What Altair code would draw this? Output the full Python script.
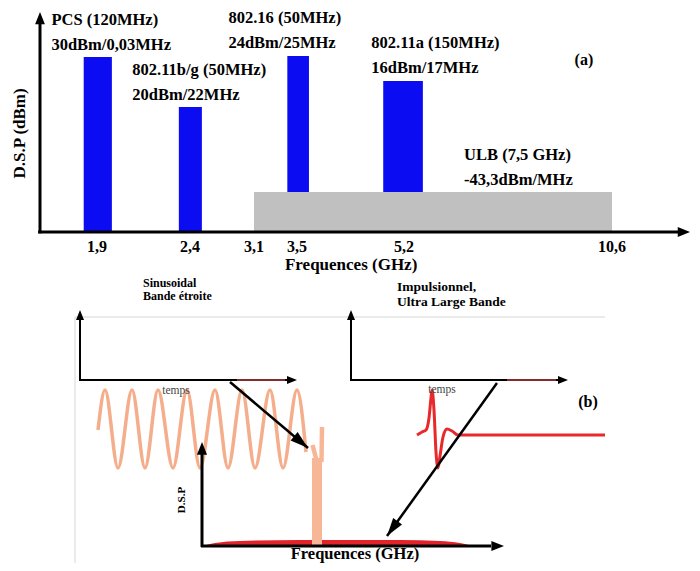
import altair as alt
import pandas as pd
import numpy as np

# ---------------- Panel (a): spectrum allocation ----------------
axis_ghz = [1.6, 1.9, 2.4, 3.1, 3.5, 5.2, 10.6, 12.6]        # schematic (non-linear) frequency axis
tick_ghz = [1.9, 2.4, 3.1, 3.5, 5.2, 10.6]
tick_txt = ["1,9", "2,4", "3,1", "3,5", "5,2", "10,6"]

band_names = ["PCS (120MHz)", "802.11b/g (50MHz)", "802.16 (50MHz)", "802.11a (150MHz)"]
band_limits = ["30dBm/0,03MHz", "20dBm/22MHz", "24dBm/25MHz", "16dBm/17MHz"]
band_start = [1.83, 2.34, 3.41, 4.87]
band_end = [1.98, 2.53, 3.69, 5.69]
band_level = [78.1, 55.8, 78.6, 67.4]        # schematic D.S.P level (0-100)
label_ghz = [1.66, 2.09, 2.82, 4.68]
label_level = [94.6, 72.3, 95.5, 84.4]

ulb_name = ["ULB (7,5 GHz)"]
ulb_limit = ["-43,3dBm/MHz"]
ulb_start = [3.1]
ulb_end = [10.6]
ulb_level = [17.9]
ulb_label_ghz = [6.76]
ulb_label_level = [34.4]

# ---------------- Panel (b): illustration (diagram units) ----------------
sine_x = [98, 105, 118, 132, 145, 158, 173, 187, 200, 215, 228, 242, 255, 270, 283, 297, 306]
sine_y = [430, 390, 468, 390, 468, 390, 468, 390, 468, 390, 468, 390, 468, 390, 468, 390, 452]

pulse_x = [417, 422, 426, 429, 431, 432, 434, 436, 438, 440, 443, 447, 452, 458, 605]
pulse_y = [435, 432, 430, 418, 398, 390, 410, 452, 468, 456, 437, 429, 431, 435, 435]

uwb_x = [203, 215, 240, 300, 400, 440, 460, 472]
uwb_top = [546, 543, 541, 540, 540, 541, 543, 546]
uwb_base = [546] * len(uwb_x)

line_x0 = [312]; line_x1 = [322]; line_y0 = [458]; line_y1 = [546]
prong_x = [312.5, 317, 322, 321.5]
prong_y = [445, 462, 427, 462]
prong_id = [0, 0, 1, 1]

# segments (x, y, x2, y2)
time_axes = [(80, 381, 80, 318), (79, 380, 287, 380), (351, 381, 351, 318), (350, 380, 558, 380)]
time_red = [(237, 380, 285, 380), (507, 380, 556, 380)]
spec_axes = [(202, 547, 202, 454), (201, 546, 491, 546)]
diag_arrows = [(230, 382, 308, 448), (497, 383, 387, 536)]
frame = [(75, 317, 605, 317), (75, 317, 75, 563)]
time_heads = [(80, 310, 0), (297, 380, 90), (351, 310, 0), (568, 380, 90)]
spec_heads = [(202, 442, 0), (504, 546, 90)]

txt_left_small = [("Sinusoidal", 143, 283), ("Bande étroite", 143, 296)]
txt_left_med = [("Impulsionnel,", 397, 287), ("Ultra Large Bande", 397, 302)]
txt_temps = [("temps", 176, 391), ("temps", 442, 390)]

W, H = 684, 555
SERIF = "Liberation Serif, Times New Roman, Times, DejaVu Serif, serif"
ARROW = "M0,0L-0.8,2L0.8,2Z"

xs = alt.Scale(domain=axis_ghz, range=[32, 89, 182, 246, 289, 396, 604, 682], nice=False, zero=False)
ys = alt.Scale(domain=[0, 100], range=[224, 0], nice=False, zero=False)

def XA(f):
    return alt.X(f, type="quantitative", scale=xs, axis=None)

def YA(f):
    return alt.Y(f, type="quantitative", scale=ys, axis=None)

bands = pd.DataFrame({"name": band_names, "limit": band_limits, "f0": band_start, "f1": band_end,
                      "lvl": band_level, "lf": label_ghz, "ll": label_level, "base": 0.0})
ulb = pd.DataFrame({"name": ulb_name, "limit": ulb_limit, "f0": ulb_start, "f1": ulb_end,
                    "lvl": ulb_level, "lf": ulb_label_ghz, "ll": ulb_label_level, "base": 0.0})
ticks = pd.DataFrame({"f": tick_ghz, "t": tick_txt, "l": 0.0})

blue = alt.Chart(bands).mark_rect(color="#0c0cf2").encode(x=XA("f0"), x2="f1", y=YA("lvl"), y2="base")
gray = alt.Chart(ulb).mark_rect(color="#c0c0c0").encode(x=XA("f0"), x2="f1", y=YA("lvl"), y2="base")

lab_style = dict(align="left", baseline="middle", font=SERIF, fontWeight="bold", fontSize=16.5, color="black")
labs = pd.concat([bands, ulb])
lab1 = alt.Chart(labs).mark_text(**lab_style).encode(x=XA("lf"), y=YA("ll"), text="name:N")
lab2 = alt.Chart(labs).mark_text(dy=25, **lab_style).encode(x=XA("lf"), y=YA("ll"), text="limit:N")

xaxis = alt.Chart(pd.DataFrame({"f0": [axis_ghz[0] - 0.01], "f1": [12.3], "l": [0.0]})).mark_rule(
    color="black", strokeWidth=3).encode(x=XA("f0"), x2="f1", y=YA("l"))
yaxis = alt.Chart(pd.DataFrame({"f": [axis_ghz[0]], "l0": [-0.6], "l1": [95.0]})).mark_rule(
    color="black", strokeWidth=3).encode(x=XA("f"), y=YA("l0"), y2="l1")
headsA = alt.Chart(pd.DataFrame({"f": [axis_ghz[0], axis_ghz[-1]], "l": [98.2, 0.0], "ang": [0, 90]})).mark_point(
    shape=ARROW, filled=True, color="black", opacity=1, size=150, strokeWidth=0).encode(
    x=XA("f"), y=YA("l"), angle=alt.Angle("ang:Q", scale=None))

tick_lab = alt.Chart(ticks).mark_text(dy=15, baseline="middle", align="center", font=SERIF,
                                      fontWeight="bold", fontSize=16, color="black").encode(
    x=XA("f"), y=YA("l"), text="t:N")
xtitle = alt.Chart(pd.DataFrame({"f": [4.36], "l": [0.0], "t": ["Frequences (GHz)"]})).mark_text(
    dy=33, baseline="middle", align="center", font=SERIF, fontWeight="bold", fontSize=17, color="black").encode(
    x=XA("f"), y=YA("l"), text="t:N")
ytitle = alt.Chart(pd.DataFrame({"f": [axis_ghz[0]], "l": [44.0], "t": ["D.S.P (dBm)"]})).mark_text(
    dy=-20, angle=270, baseline="middle", align="center", font=SERIF, fontWeight="bold", fontSize=17,
    color="black").encode(x=XA("f"), y=YA("l"), text="t:N")
tag_a = alt.Chart(pd.DataFrame({"f": [9.87], "l": [76.8], "t": ["(a)"]})).mark_text(
    baseline="middle", align="center", font=SERIF, fontWeight="bold", fontSize=16, color="black").encode(
    x=XA("f"), y=YA("l"), text="t:N")

panelA = alt.layer(blue, gray, xaxis, yaxis, headsA, lab1, lab2, tick_lab, xtitle, ytitle, tag_a)

# ---------------- panel (b) ----------------
xb = alt.Scale(domain=[8, 8 + W], range=[0, W], nice=False, zero=False)
yb = alt.Scale(domain=[8, 8 + H], range=[0, H], nice=False, zero=False)

def XB(f):
    return alt.X(f, type="quantitative", scale=xb, axis=None)

def YB(f):
    return alt.Y(f, type="quantitative", scale=yb, axis=None)

def segs(rows, color, width):
    df = pd.DataFrame(rows, columns=["x", "y", "x2", "y2"])
    return alt.Chart(df).mark_rule(color=color, strokeWidth=width).encode(
        x=XB("x"), y=YB("y"), x2="x2", y2="y2")

def heads(rows, size):
    df = pd.DataFrame(rows, columns=["x", "y", "ang"])
    return alt.Chart(df).mark_point(shape=ARROW, filled=True, color="black", opacity=1, size=size,
                                    strokeWidth=0).encode(
        x=XB("x"), y=YB("y"), angle=alt.Angle("ang:Q", scale=None))

def texts(rows, **kw):
    df = pd.DataFrame(rows, columns=["t", "x", "y"])
    return alt.Chart(df).mark_text(font=SERIF, **kw).encode(x=XB("x"), y=YB("y"), text="t:N")

diag = pd.DataFrame(diag_arrows, columns=["x0", "y0", "x1", "y1"])
diag["ang"] = np.degrees(np.arctan2(diag.x1 - diag.x0, -(diag.y1 - diag.y0)))
diag_lines = alt.Chart(diag).mark_rule(color="black", strokeWidth=2.5).encode(
    x=XB("x0"), y=YB("y0"), x2="x1", y2="y1")
diag_heads = alt.Chart(diag).mark_point(shape="M0,0L-0.6,2L0.6,2Z", filled=True, color="black", opacity=1,
                                        size=330, strokeWidth=0).encode(
    x=XB("x1"), y=YB("y1"), angle=alt.Angle("ang:Q", scale=None))

sine = alt.Chart(pd.DataFrame({"x": sine_x, "y": sine_y, "o": range(len(sine_x))})).mark_line(
    color="#f5ae8b", strokeWidth=3.5, interpolate="monotone").encode(x=XB("x"), y=YB("y"), order="o:Q")
pulse = alt.Chart(pd.DataFrame({"x": pulse_x, "y": pulse_y, "o": range(len(pulse_x))})).mark_line(
    color="#e8282b", strokeWidth=3, interpolate="monotone").encode(x=XB("x"), y=YB("y"), order="o:Q")
uwb = alt.Chart(pd.DataFrame({"x": uwb_x, "y": uwb_top, "y2": uwb_base})).mark_area(
    color="#e2232a", interpolate="monotone").encode(x=XB("x"), y=YB("y"), y2="y2")
nb_line = alt.Chart(pd.DataFrame({"x": line_x0, "x2": line_x1, "y": line_y0, "y2": line_y1})).mark_rect(
    color="#f7b797").encode(x=XB("x"), x2="x2", y=YB("y"), y2="y2")
prongs = alt.Chart(pd.DataFrame({"x": prong_x, "y": prong_y, "g": prong_id})).mark_line(
    color="#f7b797", strokeWidth=4.5).encode(x=XB("x"), y=YB("y"), detail="g:N")

panelB = alt.layer(
    segs(frame, "#e4e4e4", 1.5),
    sine, pulse, uwb, nb_line, prongs,
    segs(time_axes, "black", 2),
    segs(time_red, "#b03a3a", 1.5),
    heads(time_heads, 100),
    segs(spec_axes, "black", 3),
    heads(spec_heads, 160),
    diag_lines, diag_heads,
    texts(txt_left_small, align="left", baseline="middle", fontWeight="bold", fontSize=12, color="black"),
    texts(txt_left_med, align="left", baseline="middle", fontWeight="bold", fontSize=13.5, color="black"),
    texts(txt_temps, align="center", baseline="middle", fontSize=11.5, color="#444444"),
    texts([("(b)", 588, 402)], align="center", baseline="middle", fontWeight="bold", fontSize=16, color="black"),
    texts([("D.S.P", 182, 500)], align="center", baseline="middle", angle=270, fontWeight="bold",
          fontSize=11, color="black"),
    texts([("Frequences (GHz)", 355, 562)], align="center", baseline="bottom", fontWeight="bold",
          fontSize=16.5, color="black"),
)

chart = alt.layer(panelA, panelB).resolve_scale(x="independent", y="independent").properties(
    width=W, height=H, padding=0, autosize=alt.AutoSizeParams(type="none"), background="white"
).configure_view(stroke=None)

chart.save("out.html", embed_options={"renderer": "svg", "actions": False})
